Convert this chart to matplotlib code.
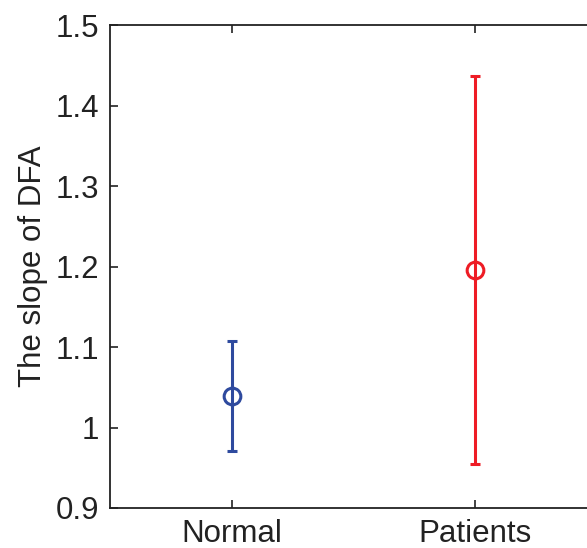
import numpy as np
import matplotlib.pyplot as plt

plt.rcParams['font.family'] = ['Liberation Sans', 'DejaVu Sans']

groups = ['Normal', 'Patients']
means = [1.039, 1.196]
errors = [0.068, 0.241]
colors = ['#2E4A9E', '#EE1C25']

fig = plt.figure(figsize=(5.87, 5.48), dpi=100)
ax = fig.add_axes([0.1874, 0.073, 0.83, 0.881])

x = np.arange(1, len(groups) + 1)
for xi, m, e, c in zip(x, means, errors, colors):
    ax.errorbar(xi, m, yerr=e, fmt='o', color=c, mfc='none', ms=12, mew=2.2,
                elinewidth=2.2, capsize=3.5, capthick=2.2)

ax.set_xlim(0.5, 2.5)
ax.set_ylim(0.9, 1.5)
ax.set_xticks(x, groups)
ax.set_yticks([0.9, 1.0, 1.1, 1.2, 1.3, 1.4, 1.5], ['0.9', '1', '1.1', '1.2', '1.3', '1.4', '1.5'])
ax.tick_params(direction='in', top=True, right=True, labelsize=22.5, length=6,
               width=1.2, colors='#222222', pad=8)
for s in ax.spines.values():
    s.set_linewidth(1.3)
    s.set_color('#222222')
ax.set_ylabel('The slope of DFA', fontsize=22.5, color='#222222', labelpad=5)

fig.savefig('out.png', dpi=100)
